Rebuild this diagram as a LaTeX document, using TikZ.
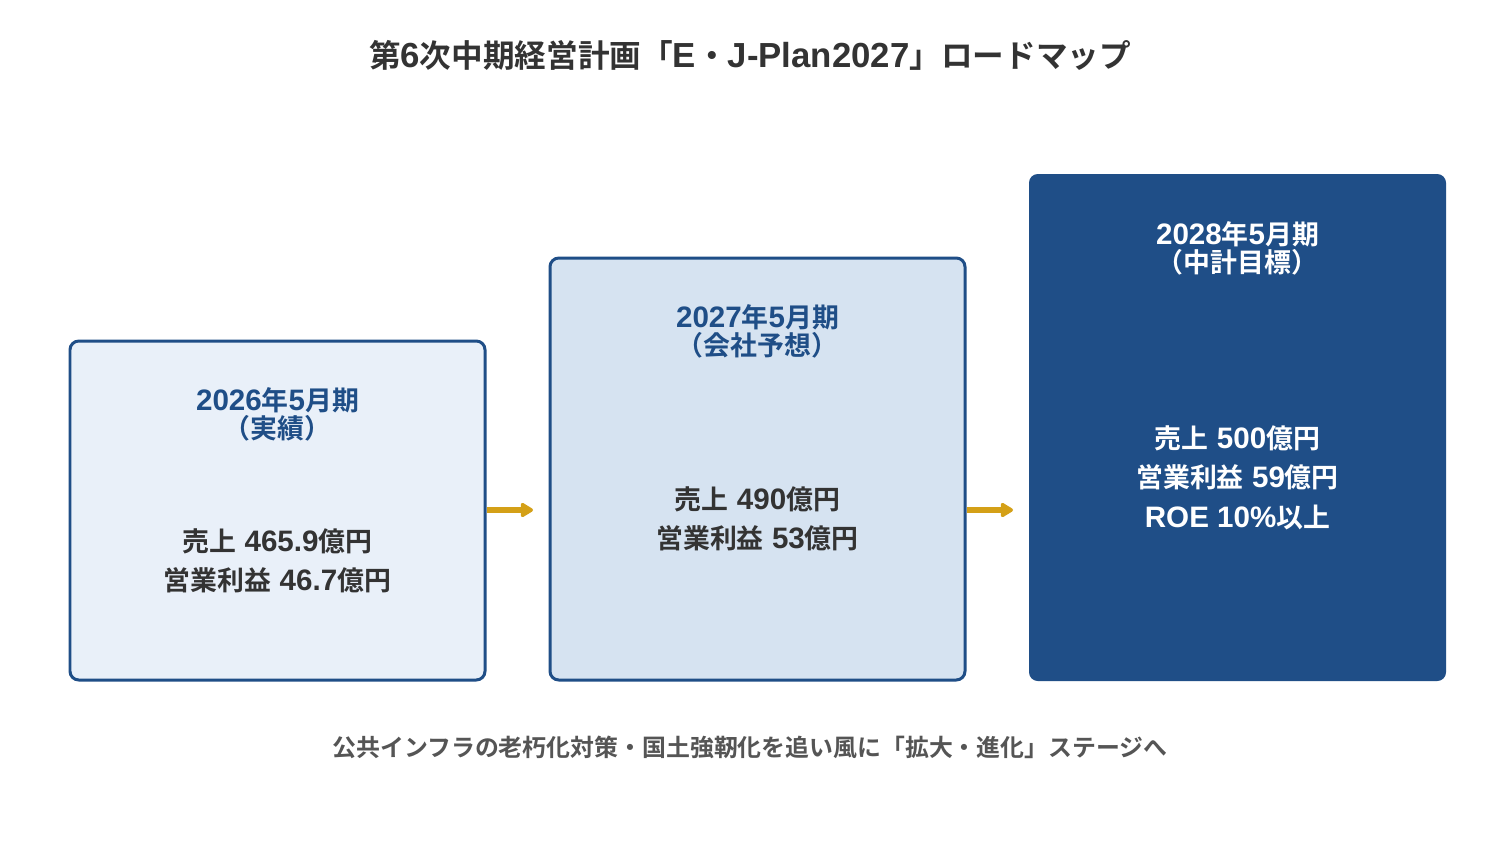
\documentclass[tikz,border=0pt]{standalone}
\usepackage{fontspec}
\setmainfont{Noto Sans CJK JP}[BoldFont={Noto Sans CJK JP Bold}]
\newfontfamily\latfont{Liberation Sans}[Scale=1.1]
\newcommand\latn[1]{{\latfont\bfseries #1}}
\usetikzlibrary{arrows.meta}
\definecolor{navy}{HTML}{1F4E87}
\definecolor{lightA}{HTML}{E9F0F9}
\definecolor{lightB}{HTML}{D6E3F1}
\definecolor{gold}{HTML}{D4A017}
\definecolor{txt}{HTML}{333333}
\definecolor{subtxt}{HTML}{555555}
\tikzset{
  stagebox/.style={draw=navy, line width=1.7pt, rounded corners=5pt},
  headtxt/.style={font=\bfseries\fontsize{15.3}{18}\selectfont, text=navy, inner sep=0pt},
  valtxt/.style={font=\bfseries\fontsize{15.3}{18}\selectfont, text=txt, inner sep=0pt},
  flow/.style={draw=gold, line width=3.4pt, -{Triangle[length=8pt,width=9pt,round]}},
}
\begin{document}
\begin{tikzpicture}[x=0.02cm,y=-0.02cm]
\useasboundingbox (0,0) rectangle (1500,840);
\fill[white] (0,0) rectangle (1500,840);
\node[font=\bfseries\fontsize{18}{22}\selectfont, text=txt, inner sep=0pt] (title) at (750,55) {第\latn{6}次中期経営計画「\latn{E}・\latn{J-Plan2027}」ロードマップ};
% boxes
\draw[stagebox, fill=lightA] (70,341) rectangle (485,680);
\node[inner sep=0pt] (box1) at (277.5,510.5) {};
\draw[stagebox, fill=lightB] (550,258) rectangle (965,680);
\node[inner sep=0pt] (box2) at (757.5,469) {};
\fill[navy, rounded corners=5pt] (1029,174) rectangle (1446,681);
\node[inner sep=0pt] (box3) at (1237.5,427.5) {};
% texts box1
\node[headtxt] (h1a) at (277.5,400) {\latn{2026}年\latn{5}月期};
\node[headtxt] (h1b) at (277.5,428) {（実績）};
\node[valtxt] (v1a) at (277.5,541) {売上\latn{ 465.9}億円};
\node[valtxt] (v1b) at (277.5,580) {営業利益\latn{ 46.7}億円};
% box2
\node[headtxt] (h2a) at (757.5,317) {\latn{2027}年\latn{5}月期};
\node[headtxt] (h2b) at (757.5,345) {（会社予想）};
\node[valtxt] (v2a) at (757.5,499) {売上\latn{ 490}億円};
\node[valtxt] (v2b) at (757.5,538) {営業利益\latn{ 53}億円};
% box3
\node[headtxt, text=white] (h3a) at (1237.5,234) {\latn{2028}年\latn{5}月期};
\node[headtxt, text=white] (h3b) at (1237.5,262) {（中計目標）};
\node[valtxt, text=white] (v3a) at (1237.5,438) {売上\latn{ 500}億円};
\node[valtxt, text=white] (v3b) at (1237.5,477) {営業利益\latn{ 59}億円};
\node[valtxt, text=white] (v3c) at (1237.5,517) {\latn{ROE 10\%}以上};
% arrows
\coordinate (a1s) at (487,510);
\coordinate (a1e) at (533,510);
\coordinate (a2s) at (967,510);
\coordinate (a2e) at (1013,510);
\draw[flow] (a1s) -- (a1e);
\draw[flow] (a2s) -- (a2e);
\node[font=\bfseries\fontsize{13.6}{16}\selectfont, text=subtxt, inner sep=0pt] (foot) at (750,747) {公共インフラの老朽化対策・国土強靭化を追い風に「拡大・進化」ステージへ};
\end{tikzpicture}
\end{document}
